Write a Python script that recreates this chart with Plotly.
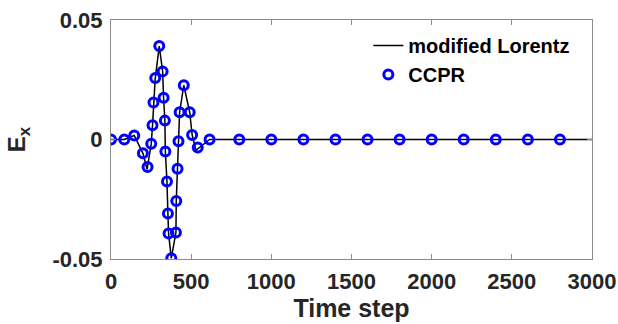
import plotly.graph_objects as go

# CCPR samples (time step, Ex)
ccpr_t = [0, 83, 145, 199, 228, 251, 259, 265, 276, 301, 322, 328, 336, 339,
          349, 355, 359, 376, 405, 407, 415, 421, 428, 454, 491, 506, 541, 615,
          800, 1000, 1200, 1400, 1600, 1800, 2000, 2200, 2400, 2600, 2800]
ccpr_ex = [0.0, 0.0, 0.0017, -0.0058, -0.0115, -0.0018, 0.0060, 0.0155, 0.0257,
           0.0391, 0.0285, 0.0175, 0.0079, -0.0050, -0.0176, -0.0310, -0.0393,
           -0.0497, -0.0389, -0.0257, -0.0122, -0.0007, 0.0114, 0.0227, 0.0114,
           0.0019, -0.0033, 0.0, 0.0, 0.0, 0.0, 0.0, 0.0, 0.0, 0.0, 0.0, 0.0, 0.0, 0.0]

# modified Lorentz reference curve
lorentz_t = [0, 83, 145, 199, 225, 251, 259, 265, 276, 301, 322, 328, 336, 339,
             349, 355, 359, 376, 405, 407, 415, 421, 428, 454, 491, 506, 530, 615,
             800, 3000]
lorentz_ex = [0.0, 0.0, 0.0017, -0.0058, -0.0125, -0.0018, 0.0060, 0.0155, 0.0257,
              0.0391, 0.0285, 0.0175, 0.0079, -0.0050, -0.0176, -0.0310, -0.0393,
              -0.0497, -0.0389, -0.0257, -0.0122, -0.0007, 0.0114, 0.0227, 0.0114,
              0.0019, -0.0045, 0.0, 0.0, 0.0]

x_ticks = [0, 500, 1000, 1500, 2000, 2500, 3000]
y_ticks = [-0.05, 0, 0.05]
y_tick_labels = ["-0.05", "0", "0.05"]

FONT = "Liberation Sans, Arial"

fig = go.Figure()
fig.add_trace(go.Scatter(x=lorentz_t, y=lorentz_ex, mode="lines",
                         name="modified Lorentz",
                         line=dict(color="black", width=1.5)))
fig.add_trace(go.Scatter(x=ccpr_t, y=ccpr_ex, mode="markers", name="CCPR",
                         marker=dict(symbol="circle-open", size=9, color="#0000ff",
                                     line=dict(width=3, color="#0000ff"))))

tickfont = dict(family=FONT, size=22, color="#262626", weight="bold")
axis_common = dict(showline=True, linecolor="#8c8c8c", linewidth=1, mirror="ticks",
                   ticks="inside", ticklen=5, tickcolor="#8c8c8c", showgrid=False,
                   zeroline=False, tickfont=tickfont, automargin=False)

fig.update_layout(
    width=618, height=324,
    margin=dict(l=111, r=26, t=20, b=65),
    paper_bgcolor="white", plot_bgcolor="white",
    xaxis=dict(range=[0, 3000], tickvals=x_ticks, ticklabelstandoff=3,
               title=dict(text="Time step", standoff=4,
                          font=dict(family=FONT, size=25, color="#262626", weight="bold")),
               **axis_common),
    yaxis=dict(range=[-0.05, 0.05], tickvals=y_ticks, ticktext=y_tick_labels,
               ticklabelstandoff=3,
               title=dict(text="E<sub>x</sub>", standoff=20,
                          font=dict(family=FONT, size=24, color="#262626", weight="bold")),
               **axis_common),
    legend=dict(x=0.535, y=0.975, xanchor="left", yanchor="top",
                bgcolor="rgba(0,0,0,0)",
                font=dict(family=FONT, size=20, color="black", weight="bold"),
                tracegroupgap=0, itemwidth=30),
    showlegend=True,
)

fig.write_html("out.html", config={"displayModeBar": False},
               post_script="document.body.style.margin='0';")
